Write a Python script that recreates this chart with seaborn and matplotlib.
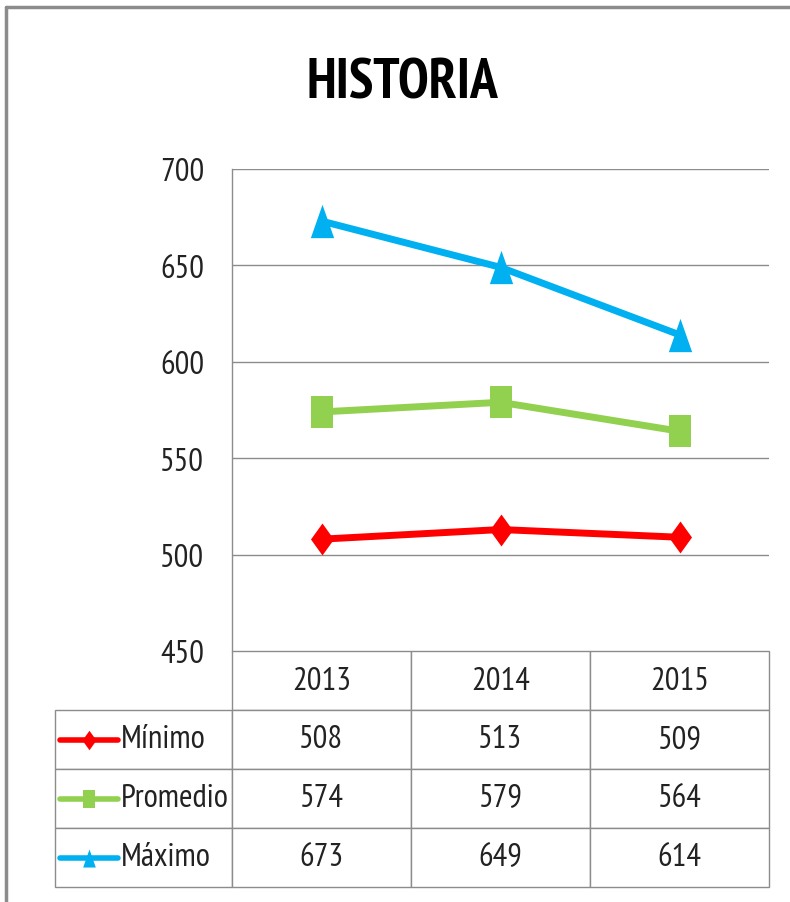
import numpy as np
import matplotlib
matplotlib.use("Agg")
import matplotlib.pyplot as plt
from matplotlib import font_manager as fm
import seaborn as sns
import pandas as pd
from matplotlib.lines import Line2D

years = ["2013", "2014", "2015"]
minimo = [508, 513, 509]
promedio = [574, 579, 564]
maximo = [673, 649, 614]
series = ["Mínimo", "Promedio", "Máximo"]
colors = {"Mínimo": "#FF0000", "Promedio": "#92D050", "Máximo": "#00B0F0"}
yticks = [450, 500, 550, 600, 650, 700]

# tall markers, the screenshot is stretched vertically
marks = {
    "Mínimo": [(0, 1), (0.72, 0), (0, -1), (-0.72, 0)],
    "Promedio": [(-0.68, -1), (0.68, -1), (0.68, 1), (-0.68, 1)],
    "Máximo": [(0, 1), (0.7, -1), (-0.7, -1)],
}
msize = {"Mínimo": 23, "Promedio": 23, "Máximo": 24}
ksize = {"Mínimo": 14, "Promedio": 12.5, "Máximo": 13}

# narrow font like the excel screenshot, if one is around
avail = {f.name for f in fm.fontManager.ttflist}
font = "Liberation Sans"
for cand in ["PT Sans Narrow", "Archivo Narrow", "Roboto Condensed",
             "Fira Sans Condensed", "Liberation Sans Narrow", "Liberation Sans"]:
    if cand in avail:
        font = cand
        break

sns.set_style("white")
plt.rcParams["font.family"] = [font, "DejaVu Sans"]

W, H = 790, 903
fig = plt.figure(figsize=(W / 100, H / 100), dpi=100)

def fx(px):
    return px / W

def fy(py):
    return 1 - py / H

ax = fig.add_axes([fx(232), fy(652), fx(769) - fx(232), fy(170) - fy(652)])
for s, vals in zip(series, [minimo, promedio, maximo]):
    sns.lineplot(x=years, y=vals, color=colors[s], marker=marks[s],
                 markersize=msize[s], markeredgewidth=0, linewidth=5,
                 ax=ax, sort=False)
ax.set_xlim(-0.5, 2.5)
ax.set_ylim(450, 700)
ax.set_yticks(yticks)
ax.set_xticks([])
ax.set_xlabel("")
ax.set_ylabel("")
ax.tick_params(axis="y", length=0, pad=20, labelsize=23.5, labelcolor="#222222")
for s in ["top", "right", "bottom"]:
    ax.spines[s].set_visible(False)
ax.spines["left"].set_color("#8c8c8c")
ax.spines["left"].set_linewidth(1)
for v in yticks[1:]:
    ax.axhline(v, color="#8c8c8c", lw=1, zorder=0)

fig.text(fx(402), fy(84), "HISTORIA", ha="center", va="center",
         fontsize=40, fontweight="bold", color="black")

# data table
tax = fig.add_axes([fx(55), fy(888), fx(769) - fx(55), fy(652) - fy(888)])
tax.axis("off")
rows = [["", *years]]
for s, vals in zip(series, [minimo, promedio, maximo]):
    rows.append([""] + [str(v) for v in vals])
lab_w = (232 - 55) / 714
col_w = (1 - lab_w) / 3
tbl = tax.table(cellText=rows, colWidths=[lab_w, col_w, col_w, col_w],
                cellLoc="center", bbox=[0, 0, 1, 1])
tbl.auto_set_font_size(False)
for (r, c), cell in tbl.get_celld().items():
    cell.set_edgecolor("#8c8c8c")
    cell.set_linewidth(1)
    cell.get_text().set_fontsize(23.5)
    cell.get_text().set_color("#222222")
tbl[0, 0].visible_edges = ""

row_y = [0.625, 0.375, 0.125]
for s, yy in zip(series, row_y):
    tax.add_line(Line2D([0.007, 0.088], [yy, yy], color=colors[s], lw=4,
                        transform=tax.transAxes))
    tax.add_line(Line2D([0.0475], [yy], color=colors[s], marker=marks[s],
                        markersize=ksize[s], markeredgewidth=0,
                        transform=tax.transAxes))
    tax.text(0.092, yy, s, transform=tax.transAxes, ha="left", va="center",
             fontsize=23.5, color="#222222")

# outer frame
fig.add_artist(Line2D([fx(6), fx(6)], [0, fy(8)], color="#8c8c8c", lw=2.5))
fig.add_artist(Line2D([fx(6), 1], [fy(8), fy(8)], color="#8c8c8c", lw=2.5))

fig.savefig("out.png", dpi=100)
